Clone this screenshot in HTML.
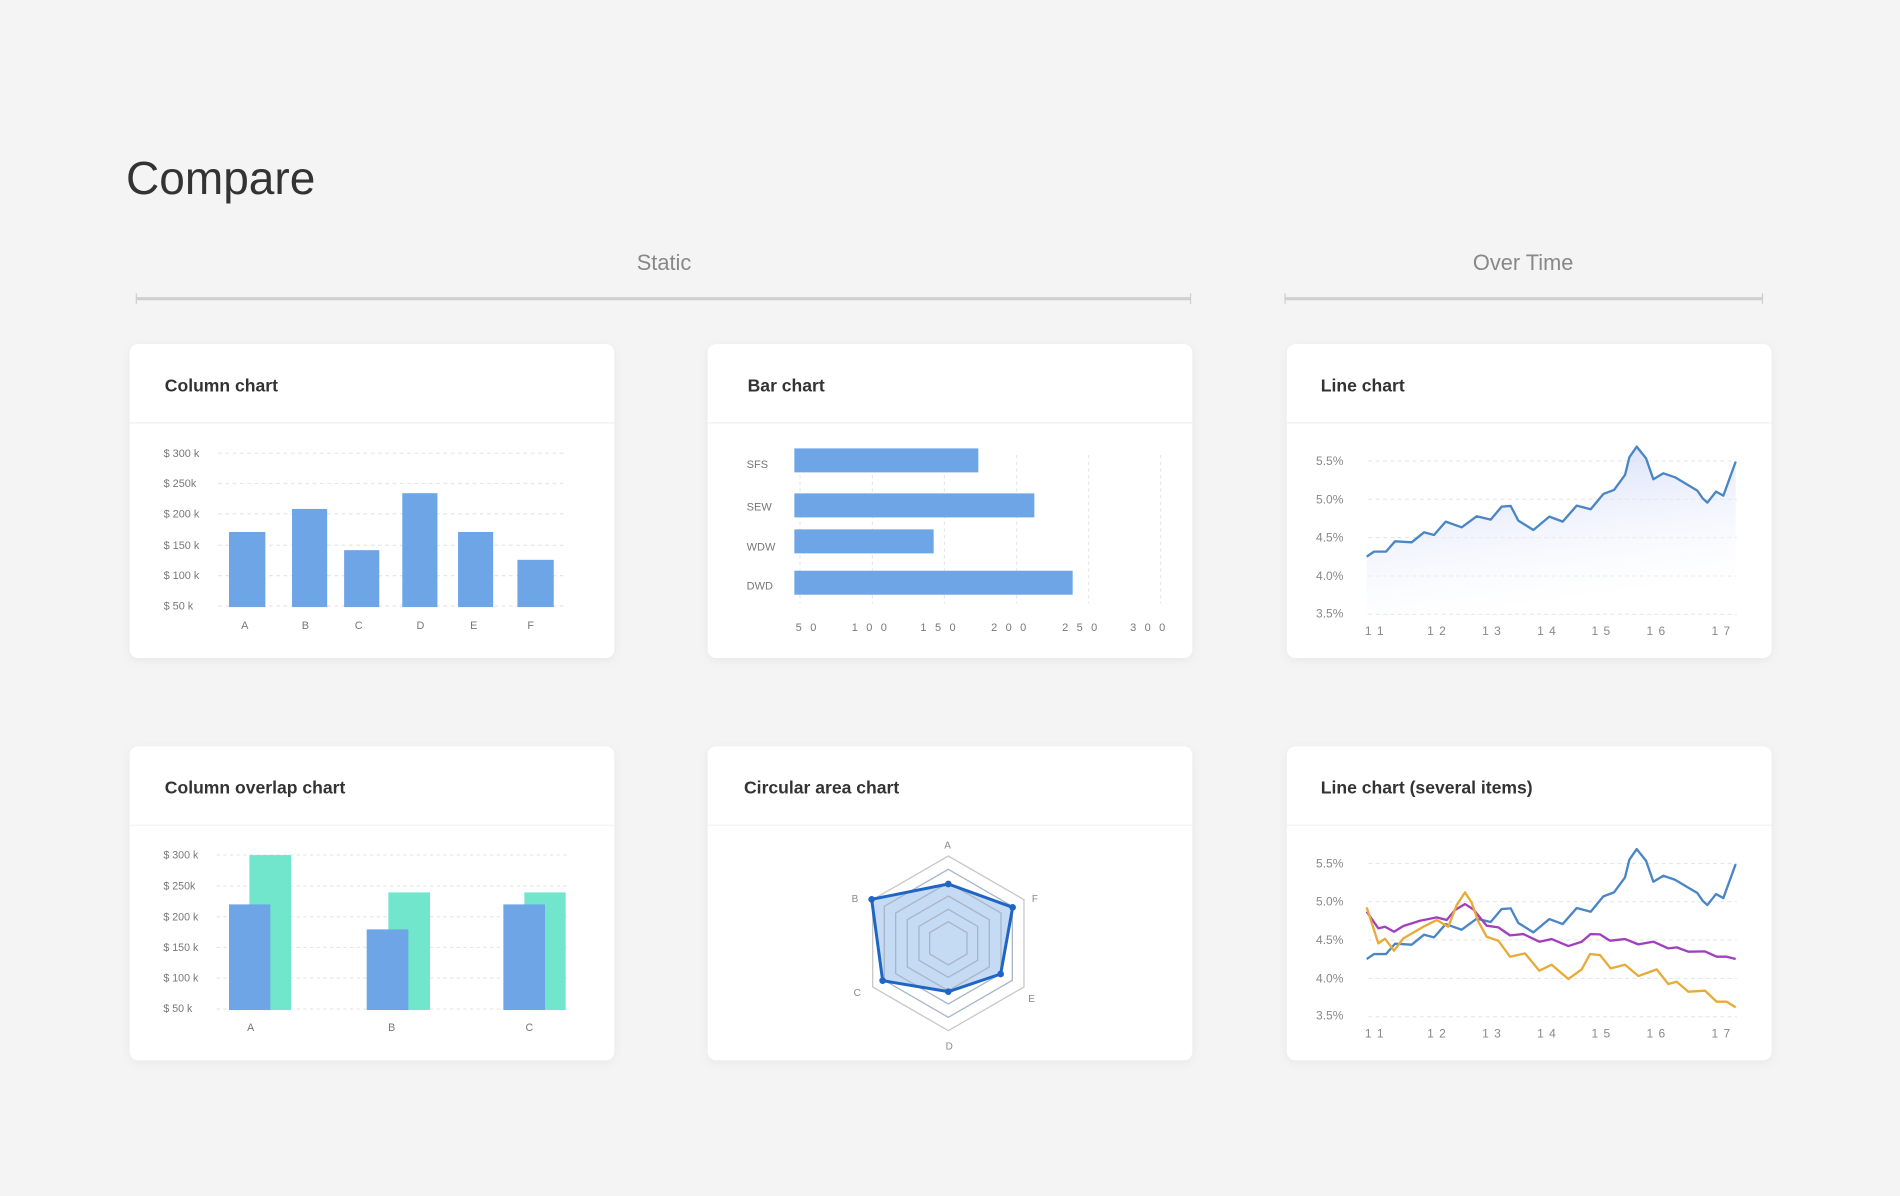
<!DOCTYPE html>
<html><head><meta charset="utf-8"><style>
html,body{margin:0;padding:0;background:#f4f4f4;}
svg{display:block;}
text{font-family:"Liberation Sans",sans-serif;}
</style></head><body>
<svg width="1900" height="1196" viewBox="0 0 1568 987" xmlns="http://www.w3.org/2000/svg">
<defs>
<filter id="sh" x="-10%" y="-10%" width="120%" height="130%"><feDropShadow dx="0" dy="2" stdDeviation="4" flood-color="#000" flood-opacity="0.05"/></filter>
<linearGradient id="lg" x1="0" y1="0" x2="0.3" y2="1"><stop offset="0" stop-color="#c9d4f6" stop-opacity="0.9"/><stop offset="1" stop-color="#ffffff" stop-opacity="0.3"/></linearGradient>
</defs>
<rect width="1568" height="987" fill="#f4f4f4"/>
<text x="104" y="160" font-size="38" fill="#333">Compare</text>
<text x="548" y="223" font-size="18" fill="#888" text-anchor="middle">Static</text>
<text x="1257" y="223" font-size="18" fill="#888" text-anchor="middle">Over Time</text>
<line x1="112" y1="246.5" x2="983" y2="246.5" stroke="#cfcfcf" stroke-width="2.5"/>
<line x1="112.5" y1="242" x2="112.5" y2="251" stroke="#cfcfcf"/><line x1="982.5" y1="242" x2="982.5" y2="251" stroke="#cfcfcf"/>
<line x1="1060" y1="246.5" x2="1455" y2="246.5" stroke="#cfcfcf" stroke-width="2.5"/>
<line x1="1060.5" y1="242" x2="1060.5" y2="251" stroke="#cfcfcf"/><line x1="1454.5" y1="242" x2="1454.5" y2="251" stroke="#cfcfcf"/>

<g filter="url(#sh)" fill="#fff">
<rect x="107" y="284" width="400" height="259" rx="7"/>
<rect x="584" y="284" width="400" height="259" rx="7"/>
<rect x="1062" y="284" width="400" height="259" rx="7"/>
<rect x="107" y="616" width="400" height="259" rx="7"/>
<rect x="584" y="616" width="400" height="259" rx="7"/>
<rect x="1062" y="616" width="400" height="259" rx="7"/>
</g>
<g stroke="#f0f0f0" stroke-width="1">
<line x1="107" y1="349" x2="507" y2="349"/><line x1="584" y1="349" x2="984" y2="349"/><line x1="1062" y1="349" x2="1462" y2="349"/>
<line x1="107" y1="681" x2="507" y2="681"/><line x1="584" y1="681" x2="984" y2="681"/><line x1="1062" y1="681" x2="1462" y2="681"/>
</g>
<g font-size="14.5" font-weight="600" fill="#333">
<text x="136" y="323">Column chart</text>
<text x="617" y="323">Bar chart</text>
<text x="1090" y="323">Line chart</text>
<text x="136" y="655">Column overlap chart</text>
<text x="614" y="655">Circular area chart</text>
<text x="1090" y="655">Line chart (several items)</text>
</g>

<!-- Column chart -->
<g stroke="#e6e6e6" stroke-dasharray="3,3">
<line x1="180" y1="374" x2="468" y2="374"/><line x1="180" y1="399" x2="468" y2="399"/><line x1="180" y1="424" x2="468" y2="424"/><line x1="180" y1="450" x2="468" y2="450"/><line x1="180" y1="475" x2="468" y2="475"/><line x1="180" y1="500" x2="468" y2="500"/>
</g>
<g font-size="9" fill="#777">
<text x="135" y="377">$ 300 k</text><text x="135" y="402">$ 250k</text><text x="135" y="427">$ 200 k</text><text x="135" y="453">$ 150 k</text><text x="135" y="478">$ 100 k</text><text x="135" y="503">$ 50 k</text>
</g>
<g fill="#6ea5e6">
<rect x="189" y="439" width="30" height="62"/><rect x="241" y="420" width="29" height="81"/><rect x="284" y="454" width="29" height="47"/><rect x="332" y="407" width="29" height="94"/><rect x="378" y="439" width="29" height="62"/><rect x="427" y="462" width="30" height="39"/>
</g>
<g font-size="9" fill="#777" text-anchor="middle">
<text x="202" y="519">A</text><text x="252" y="519">B</text><text x="296" y="519">C</text><text x="347" y="519">D</text><text x="391" y="519">E</text><text x="438" y="519">F</text>
</g>

<!-- Bar chart -->
<g transform="translate(594.2,354.9) scale(0.27509)">
<g stroke="#e3e3e3" stroke-width="3" stroke-dasharray="10,10">
<line x1="240" y1="75" x2="240" y2="520"/><line x1="457" y1="75" x2="457" y2="520"/><line x1="673" y1="75" x2="673" y2="520"/><line x1="890" y1="75" x2="890" y2="520"/><line x1="1106" y1="75" x2="1106" y2="520"/><line x1="1322" y1="75" x2="1322" y2="520"/>
</g>
<g fill="#6ea5e6">
<rect x="223" y="55" width="552" height="72"/><rect x="223" y="190" width="720" height="72"/><rect x="223" y="298" width="418" height="72"/><rect x="223" y="422" width="835" height="72"/>
</g>
<g font-size="33" fill="#777">
<text x="80" y="114">SFS</text><text x="80" y="241">SEW</text><text x="80" y="361">WDW</text><text x="80" y="478">DWD</text>
</g>
<g font-size="33" fill="#777" text-anchor="middle" letter-spacing="8">
<text x="262" y="603">5 0</text><text x="452" y="603">1 0 0</text><text x="658" y="603">1 5 0</text><text x="870" y="603">2 0 0</text><text x="1083" y="603">2 5 0</text><text x="1287" y="603">3 0 0</text>
</g>
</g>

<!-- Line chart -->
<g transform="translate(1048.1,272.3) scale(0.27509)">
<g stroke="#e3e3e3" stroke-width="3" stroke-dasharray="12,10">
<line x1="295" y1="393" x2="1400" y2="393"/><line x1="295" y1="508" x2="1400" y2="508"/><line x1="295" y1="623" x2="1400" y2="623"/><line x1="295" y1="738" x2="1400" y2="738"/><line x1="295" y1="853" x2="1400" y2="853"/>
</g>
<polygon fill="url(#lg)" points="290,853 290,680 312,665 348,665 375,634 425,637 462,607 492,615 527,575 575,592 620,559 662,569 695,530 722,528 745,572 790,600 838,560 878,575 920,527 962,538 1000,492 1032,480 1065,435 1078,382 1100,350 1128,385 1150,448 1180,430 1215,442 1282,482 1298,505 1312,518 1338,485 1360,497 1397,395 1397,853"/>
<polyline fill="none" stroke="#4a86c6" stroke-width="7" stroke-linejoin="round" points="290,680 312,665 348,665 375,634 425,637 462,607 492,615 527,575 575,592 620,559 662,569 695,530 722,528 745,572 790,600 838,560 878,575 920,527 962,538 1000,492 1032,480 1065,435 1078,382 1100,350 1128,385 1150,448 1180,430 1215,442 1282,482 1298,505 1312,518 1338,485 1360,497 1397,395"/>
<g font-size="36" fill="#888">
<text x="138" y="405">5.5%</text><text x="138" y="520">5.0%</text><text x="138" y="635">4.5%</text><text x="138" y="750">4.0%</text><text x="138" y="862">3.5%</text>
</g>
<g font-size="36" fill="#888" text-anchor="middle" letter-spacing="3">
<text x="314" y="915">1 1</text><text x="501" y="915">1 2</text><text x="666" y="915">1 3</text><text x="831" y="915">1 4</text><text x="994" y="915">1 5</text><text x="1159" y="915">1 6</text><text x="1354" y="915">1 7</text>
</g>
</g>

<!-- Line chart several -->
<g transform="translate(1048.1,685.0) scale(0.27509)">
<g stroke="#e3e3e3" stroke-width="3" stroke-dasharray="12,10">
<line x1="295" y1="100" x2="1400" y2="100"/><line x1="295" y1="215" x2="1400" y2="215"/><line x1="295" y1="330" x2="1400" y2="330"/><line x1="295" y1="445" x2="1400" y2="445"/><line x1="295" y1="560" x2="1400" y2="560"/>
</g>
<polyline fill="none" stroke="#4a86c6" stroke-width="7" stroke-linejoin="round" transform="translate(0,-293)" points="290,680 312,665 348,665 375,634 425,637 462,607 492,615 527,575 575,592 620,559 662,569 695,530 722,528 745,572 790,600 838,560 878,575 920,527 962,538 1000,492 1032,480 1065,435 1078,382 1100,350 1128,385 1150,448 1180,430 1215,442 1282,482 1298,505 1312,518 1338,485 1360,497 1397,395"/>
<polyline fill="none" stroke="#a23fbf" stroke-width="7" stroke-linejoin="round" points="290,245 325,295 345,290 372,305 400,288 450,272 500,262 530,270 555,240 585,222 610,238 650,287 685,292 720,316 760,312 808,335 845,327 895,348 935,335 962,312 990,313 1020,332 1065,327 1105,343 1150,335 1195,355 1220,352 1255,365 1305,364 1340,380 1370,380 1397,387"/>
<polyline fill="none" stroke="#e8ab38" stroke-width="7" stroke-linejoin="round" points="290,232 325,340 345,326 372,362 400,325 460,290 500,270 535,290 560,225 585,187 605,218 625,275 650,320 685,332 720,380 765,370 808,422 845,404 895,447 935,418 960,372 990,375 1022,415 1065,404 1105,438 1160,418 1195,462 1220,455 1255,485 1305,482 1340,515 1370,515 1397,532"/>
<g font-size="36" fill="#888">
<text x="138" y="112">5.5%</text><text x="138" y="227">5.0%</text><text x="138" y="342">4.5%</text><text x="138" y="457">4.0%</text><text x="138" y="569">3.5%</text>
</g>
<g font-size="36" fill="#888" text-anchor="middle" letter-spacing="3">
<text x="314" y="622">1 1</text><text x="501" y="622">1 2</text><text x="666" y="622">1 3</text><text x="831" y="622">1 4</text><text x="994" y="622">1 5</text><text x="1159" y="622">1 6</text><text x="1354" y="622">1 7</text>
</g>
</g>

<!-- Column overlap -->
<g transform="translate(107.3,685.0) scale(0.27509)">
<g stroke="#e3e3e3" stroke-width="3" stroke-dasharray="10,10">
<line x1="260" y1="75" x2="1310" y2="75"/><line x1="260" y1="168" x2="1310" y2="168"/><line x1="260" y1="260" x2="1310" y2="260"/><line x1="260" y1="352" x2="1310" y2="352"/><line x1="260" y1="444" x2="1310" y2="444"/><line x1="260" y1="537" x2="1310" y2="537"/>
</g>
<g fill="#72e6cc"><rect x="358" y="75" width="125" height="465"/><rect x="775" y="187" width="125" height="353"/><rect x="1183" y="187" width="124" height="353"/></g>
<g fill="#6ea5e6"><rect x="297" y="223" width="124" height="317"/><rect x="710" y="298" width="125" height="242"/><rect x="1120" y="223" width="125" height="317"/></g>
<g font-size="32" fill="#777">
<text x="100" y="86">$ 300 k</text><text x="100" y="179">$ 250k</text><text x="100" y="271">$ 200 k</text><text x="100" y="363">$ 150 k</text><text x="100" y="455">$ 100 k</text><text x="100" y="546">$ 50 k</text>
</g>
<g font-size="32" fill="#777" text-anchor="middle"><text x="362" y="603">A</text><text x="785" y="603">B</text><text x="1198" y="603">C</text></g>
</g>

<!-- Radar -->
<g transform="translate(676.7,676.7) scale(0.27509)">
<g fill="none" stroke="#c8c8c8" stroke-width="4">
<polygon points="385,108 612,239 612,501 385,632 158,501 158,239"/>
</g>
<polygon points="385,192 578,262 542,462 385,515 188,482 155,238" fill="#c5daf3"/>
<g fill="none" stroke="#a9b6c8" stroke-width="4">
<polygon points="385,148 577,259 577,481 385,592 193,481 193,259"/>
<polygon points="385,188 543,279 543,461 385,552 227,461 227,279"/>
<polygon points="385,228 508,299 508,441 385,512 262,441 262,299"/>
<polygon points="385,268 473,319 473,421 385,472 297,421 297,319"/>
<polygon points="385,305 441,338 441,402 385,435 329,402 329,338"/>
</g>
<polygon points="385,192 578,262 542,462 385,515 188,482 155,238" fill="none" stroke="#1f65c3" stroke-width="9" stroke-linejoin="round"/>
<g fill="#1f65c3"><circle cx="385" cy="192" r="10"/><circle cx="578" cy="262" r="10"/><circle cx="542" cy="462" r="10"/><circle cx="385" cy="515" r="10"/><circle cx="188" cy="482" r="10"/><circle cx="155" cy="238" r="10"/></g>
<g font-size="30" fill="#888" text-anchor="middle">
<text x="383" y="85">A</text><text x="645" y="246">F</text><text x="635" y="546">E</text><text x="388" y="688">D</text><text x="112" y="528">C</text><text x="105" y="246">B</text>
</g>
</g>
</svg>
</body></html>
